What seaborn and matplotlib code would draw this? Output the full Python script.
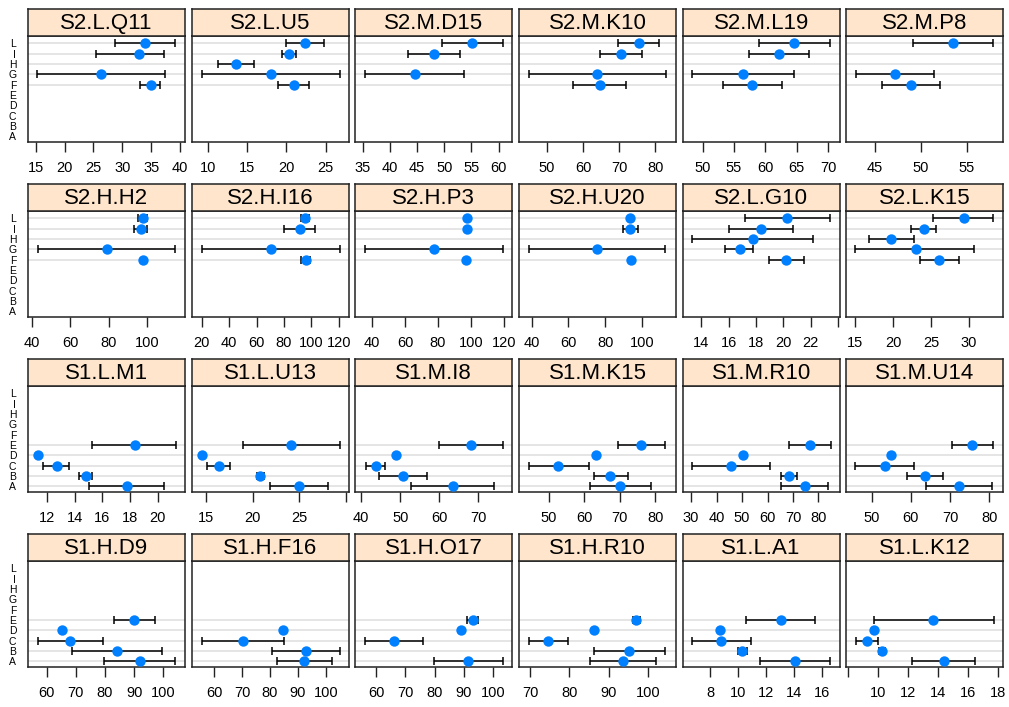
import numpy as np
import matplotlib
matplotlib.use("Agg")
import matplotlib.pyplot as plt
import seaborn as sns

# ---------------- data ----------------
levels = ['A', 'B', 'C', 'D', 'E', 'F', 'G', 'H', 'I', 'L']

panel_names = [
    'S2.L.Q11', 'S2.L.U5', 'S2.M.D15', 'S2.M.K10', 'S2.M.L19', 'S2.M.P8',
    'S2.H.H2', 'S2.H.I16', 'S2.H.P3', 'S2.H.U20', 'S2.L.G10', 'S2.L.K15',
    'S1.L.M1', 'S1.L.U13', 'S1.M.I8', 'S1.M.K15', 'S1.M.R10', 'S1.M.U14',
    'S1.H.D9', 'S1.H.F16', 'S1.H.O17', 'S1.H.R10', 'S1.L.A1', 'S1.L.K12',
]

groups = {
    'S2.L.Q11': ['L', 'I', 'G', 'F'],
    'S2.L.U5': ['L', 'I', 'H', 'G', 'F'],
    'S2.M.D15': ['L', 'I', 'G'],
    'S2.M.K10': ['L', 'I', 'G', 'F'],
    'S2.M.L19': ['L', 'I', 'G', 'F'],
    'S2.M.P8': ['L', 'G', 'F'],
    'S2.H.H2': ['L', 'I', 'G', 'F'],
    'S2.H.I16': ['L', 'I', 'G', 'F'],
    'S2.H.P3': ['L', 'I', 'G', 'F'],
    'S2.H.U20': ['L', 'I', 'G', 'F'],
    'S2.L.G10': ['L', 'I', 'H', 'G', 'F'],
    'S2.L.K15': ['L', 'I', 'H', 'G', 'F'],
    'S1.L.M1': ['E', 'D', 'C', 'B', 'A'],
    'S1.L.U13': ['E', 'D', 'C', 'B', 'A'],
    'S1.M.I8': ['E', 'D', 'C', 'B', 'A'],
    'S1.M.K15': ['E', 'D', 'C', 'B', 'A'],
    'S1.M.R10': ['E', 'D', 'C', 'B', 'A'],
    'S1.M.U14': ['E', 'D', 'C', 'B', 'A'],
    'S1.H.D9': ['E', 'D', 'C', 'B', 'A'],
    'S1.H.F16': ['D', 'C', 'B', 'A'],
    'S1.H.O17': ['E', 'D', 'C', 'A'],
    'S1.H.R10': ['E', 'D', 'C', 'B', 'A'],
    'S1.L.A1': ['E', 'D', 'C', 'B', 'A'],
    'S1.L.K12': ['E', 'D', 'C', 'B', 'A'],
}

est = {
    'S2.L.Q11': [33.9, 32.9, 26.4, 34.9],
    'S2.L.U5': [22.4, 20.3, 13.6, 18.0, 20.9],
    'S2.M.D15': [55.1, 48.1, 44.6],
    'S2.M.K10': [75.4, 70.6, 63.8, 64.6],
    'S2.M.L19': [64.6, 62.2, 56.4, 57.9],
    'S2.M.P8': [53.5, 47.2, 48.9],
    'S2.H.H2': [97.8, 96.8, 79.0, 98.1],
    'S2.H.I16': [95.1, 91.4, 70.3, 95.8],
    'S2.H.P3': [97.8, 97.8, 77.6, 96.8],
    'S2.H.U20': [93.7, 93.7, 75.5, 94.0],
    'S2.L.G10': [20.25, 18.4, 17.8, 16.8, 20.2],
    'S2.L.K15': [29.3, 24.1, 19.7, 23.0, 26.1],
    'S1.L.M1': [18.35, 11.35, 12.73, 14.8, 17.75],
    'S1.L.U13': [24.1, 14.5, 16.35, 20.8, 25.0],
    'S1.M.I8': [68.1, 48.9, 43.8, 50.7, 63.4],
    'S1.M.K15': [76.1, 63.3, 52.6, 67.3, 70.2],
    'S1.M.R10': [76.6, 50.3, 45.7, 68.5, 74.6],
    'S1.M.U14': [75.7, 54.9, 53.5, 63.7, 72.3],
    'S1.H.D9': [90.05, 65.1, 68.0, 84.0, 92.0],
    'S1.H.F16': [84.7, 70.4, 92.9, 92.3],
    'S1.H.O17': [93.1, 89.0, 66.0, 91.6],
    'S1.H.R10': [96.9, 86.2, 74.6, 95.3, 93.7],
    'S1.L.A1': [13.04, 8.71, 8.78, 10.3, 14.03],
    'S1.L.K12': [13.71, 9.73, 9.27, 10.29, 14.4],
}

lower = {
    'S2.L.Q11': [28.7, 25.4, 15.3, 33.0],
    'S2.L.U5': [20.0, 19.4, 11.3, 9.2, 18.9],
    'S2.M.D15': [49.5, 43.3, 35.4],
    'S2.M.K10': [69.6, 64.6, 44.9, 57.2],
    'S2.M.L19': [59.0, 57.4, 48.3, 53.2],
    'S2.M.P8': [49.1, 42.9, 45.7],
    'S2.H.H2': [95.5, 93.3, 43.1, 97.5],
    'S2.H.I16': [92.2, 80.0, 20.0, 92.2],
    'S2.H.P3': [97.8, 97.8, 35.5, 96.8],
    'S2.H.U20': [93.7, 89.5, 38.4, 94.0],
    'S2.L.G10': [17.2, 16.05, 13.3, 15.75, 18.95],
    'S2.L.K15': [25.3, 22.35, 16.8, 15.0, 23.6],
    'S1.L.M1': [15.27, 11.35, 11.73, 14.33, 15.03],
    'S1.L.U13': [19.0, 14.5, 15.1, 20.4, 21.8],
    'S1.M.I8': [59.9, 48.9, 41.1, 44.5, 52.7],
    'S1.M.K15': [69.5, 63.3, 44.2, 62.6, 61.6],
    'S1.M.R10': [68.5, 50.3, 30.4, 65.3, 65.3],
    'S1.M.U14': [70.45, 54.9, 45.9, 59.0, 63.9],
    'S1.H.D9': [82.9, 65.1, 56.9, 68.6, 79.8],
    'S1.H.F16': [84.7, 55.6, 80.7, 82.5],
    'S1.H.O17': [91.2, 89.0, 56.3, 79.9],
    'S1.H.R10': [96.1, 86.2, 69.7, 86.2, 85.3],
    'S1.L.A1': [10.53, 8.71, 6.72, 10.0, 11.55],
    'S1.L.K12': [9.71, 9.73, 8.53, 10.1, 12.27],
}

upper = {
    'S2.L.Q11': [39.2, 37.2, 37.4, 36.6],
    'S2.L.U5': [24.8, 21.2, 15.9, 26.8, 22.9],
    'S2.M.D15': [60.7, 52.9, 53.7],
    'S2.M.K10': [81.1, 76.5, 82.9, 71.9],
    'S2.M.L19': [70.2, 67.0, 64.5, 62.6],
    'S2.M.P8': [57.9, 51.4, 52.1],
    'S2.H.H2': [99.9, 99.9, 114.8, 98.7],
    'S2.H.I16': [98.2, 102.4, 120.6, 98.9],
    'S2.H.P3': [97.8, 97.8, 119.2, 96.8],
    'S2.H.U20': [93.7, 97.6, 112.6, 94.0],
    'S2.L.G10': [23.4, 20.7, 22.2, 17.75, 21.5],
    'S2.L.K15': [33.2, 25.7, 22.7, 30.7, 28.7],
    'S1.L.M1': [21.33, 11.35, 13.62, 15.27, 20.44],
    'S1.L.U13': [29.4, 14.5, 17.5, 21.2, 28.1],
    'S1.M.I8': [76.3, 48.9, 46.0, 56.9, 74.1],
    'S1.M.K15': [82.8, 63.3, 61.2, 72.2, 78.7],
    'S1.M.R10': [84.8, 50.3, 61.0, 71.6, 83.9],
    'S1.M.U14': [81.0, 54.9, 60.7, 68.1, 80.6],
    'S1.H.D9': [97.2, 65.1, 79.2, 99.6, 104.0],
    'S1.H.F16': [84.7, 84.9, 105.1, 102.2],
    'S1.H.O17': [94.8, 89.0, 75.9, 103.3],
    'S1.H.R10': [98.0, 86.2, 79.7, 104.3, 102.1],
    'S1.L.A1': [15.5, 8.71, 10.9, 10.6, 16.53],
    'S1.L.K12': [17.75, 9.73, 10.0, 10.45, 16.5],
}

xticks = {
    'S2.L.Q11': [15, 20, 25, 30, 35, 40],
    'S2.L.U5': [10, 15, 20, 25],
    'S2.M.D15': [35, 40, 45, 50, 55, 60],
    'S2.M.K10': [50, 60, 70, 80],
    'S2.M.L19': [50, 55, 60, 65, 70],
    'S2.M.P8': [45, 50, 55],
    'S2.H.H2': [40, 60, 80, 100],
    'S2.H.I16': [20, 40, 60, 80, 100, 120],
    'S2.H.P3': [40, 60, 80, 100, 120],
    'S2.H.U20': [40, 60, 80, 100],
    'S2.L.G10': [14, 16, 18, 20, 22, 24],
    'S2.L.K15': [15, 20, 25, 30],
    'S1.L.M1': [12, 14, 16, 18, 20],
    'S1.L.U13': [15, 20, 25, 30],
    'S1.M.I8': [40, 50, 60, 70],
    'S1.M.K15': [50, 60, 70, 80],
    'S1.M.R10': [30, 40, 50, 60, 70, 80],
    'S1.M.U14': [50, 60, 70, 80],
    'S1.H.D9': [60, 70, 80, 90, 100],
    'S1.H.F16': [60, 70, 80, 90, 100],
    'S1.H.O17': [60, 70, 80, 90, 100],
    'S1.H.R10': [70, 80, 90, 100],
    'S1.L.A1': [8, 10, 12, 14, 16],
    'S1.L.K12': [8, 10, 12, 14, 16, 18],
}
# ticks drawn without a label in the reference
unlabeled_ticks = {'S2.L.G10': [24], 'S1.L.U13': [30], 'S1.L.K12': [8]}

xlims = {
    'S2.L.Q11': (13.67, 40.87), 'S2.L.U5': (7.92, 27.93), 'S2.M.D15': (33.66, 62.5),
    'S2.M.K10': (42.2, 85.8), 'S2.M.L19': (46.84, 71.8), 'S2.M.P8': (41.84, 58.99),
    'S2.H.H2': (38.1, 119.8), 'S2.H.I16': (12.7, 127.1), 'S2.H.P3': (29.9, 125.0),
    'S2.H.U20': (33.1, 118.5), 'S2.L.G10': (12.64, 24.12), 'S2.L.K15': (13.8, 34.56),
    'S1.L.M1': (10.64, 21.95), 'S1.L.U13': (13.42, 30.32), 'S1.M.I8': (38.47, 78.7),
    'S1.M.K15': (41.5, 85.9), 'S1.M.R10': (26.7, 88.3), 'S1.M.U14': (43.56, 83.56),
    'S1.H.D9': (53.6, 107.4), 'S1.H.F16': (52.0, 108.2), 'S1.H.O17': (52.9, 106.6),
    'S1.H.R10': (67.2, 107.15), 'S1.L.A1': (6.04, 17.23), 'S1.L.K12': (7.89, 18.37),
}

ref_levels_S2 = ['F', 'G', 'H', 'I', 'L']
ref_levels_S1 = ['A', 'B', 'C', 'D', 'E']

# ---------------- style ----------------
sns.set_theme(style='white')
plt.rcParams['font.family'] = ['Liberation Sans', 'DejaVu Sans']

W, H = 1009, 707
fig = plt.figure(figsize=(W / 100, H / 100), dpi=100)

dot_color = '#0080FF'
strip_color = '#FFE5CC'
frame_color = '#222222'
grid_color = '#E3E3E3'

pw, ph, sh = 157.0, 106.0, 27.0
gap = 6.66
left0 = 28.0
row_step = 175.0
top0 = 36.0

for i, name in enumerate(panel_names):
    r, c = divmod(i, 6)
    x0 = left0 + c * (pw + gap)
    top = top0 + r * row_step
    ax = fig.add_axes([x0 / W, 1 - (top + ph) / H, pw / W, ph / H])
    st = fig.add_axes([x0 / W, 1 - top / H, pw / W, sh / H])

    # strip
    st.set_facecolor(strip_color)
    st.set_xticks([]); st.set_yticks([])
    for s in st.spines.values():
        s.set_color(frame_color); s.set_linewidth(1.1)
    st.text(0.5, 0.47, name, ha='center', va='center', fontsize=16,
            color='black', transform=st.transAxes)

    # reference lines
    refs = ref_levels_S2 if name.startswith('S2') else ref_levels_S1
    for lv in refs:
        ax.axhline(levels.index(lv), color=grid_color, lw=1.3, zorder=1)

    g = groups[name]
    y = np.array([levels.index(v) for v in g], dtype=float)
    e = np.array(est[name]); lo = np.array(lower[name]); hi = np.array(upper[name])
    has_bar = (hi - lo) > 1e-9
    if has_bar.any():
        ax.errorbar(e[has_bar], y[has_bar],
                    xerr=[e[has_bar] - lo[has_bar], hi[has_bar] - e[has_bar]],
                    fmt='none', ecolor='black', elinewidth=1.1, capsize=3.2,
                    capthick=1.1, zorder=2)
    sns.scatterplot(x=e, y=y, ax=ax, color=dot_color, s=56, linewidth=0,
                    zorder=3, legend=False)

    ax.set_xlim(*xlims[name])
    ax.set_ylim(-0.55, 9.7)
    ax.set_xlabel(''); ax.set_ylabel('')
    ax.set_facecolor('white')
    for s in ax.spines.values():
        s.set_color(frame_color); s.set_linewidth(1.1)

    tks = xticks[name]
    ax.set_xticks(tks)
    skip = unlabeled_ticks.get(name, [])
    ax.set_xticklabels(['' if t in skip else str(t) for t in tks])
    ax.tick_params(axis='x', direction='out', length=7.2, width=1.0,
                   color=frame_color, labelsize=10.5, pad=6.5, labelcolor='black',
                   bottom=True)

    ax.set_yticks(range(len(levels)))
    if c == 0:
        ax.set_yticklabels(levels)
        ax.tick_params(axis='y', length=0, labelsize=7.5, pad=8.5,
                       labelcolor='black', left=True)
    else:
        ax.set_yticklabels([])
        ax.tick_params(axis='y', length=0, left=False)
    ax.grid(False)

fig.savefig('out.png', dpi=100, facecolor='white')
